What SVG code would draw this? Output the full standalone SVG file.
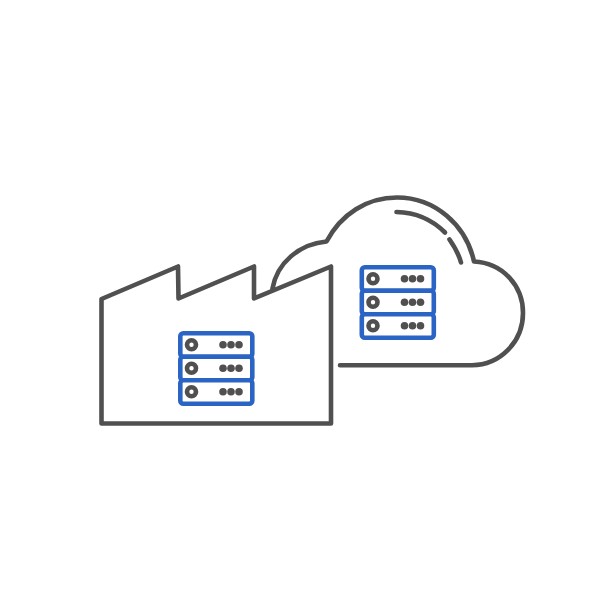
<svg xmlns="http://www.w3.org/2000/svg" width="610" height="610" viewBox="0 0 610 610">
<defs>
<style>
.o{fill:none;stroke:#505050;stroke-width:4.600;stroke-linecap:round;stroke-linejoin:round}
.r{fill:#fff;stroke:#2a64c4;stroke-width:4.600;stroke-linejoin:round}
.h{fill:#fff;stroke:#505050;stroke-width:4.600}
.d{fill:#505050}
</style>
<g id="server">
<rect class="r" x="361.800" y="267.300" width="72" height="23.500" rx="3"/>
<rect class="r" x="361.800" y="290.800" width="72" height="23.500" rx="3"/>
<rect class="r" x="361.800" y="314.300" width="72" height="23.500" rx="3"/>
<circle class="h" cx="373" cy="278.700" r="4.500"/>
<circle class="h" cx="373" cy="302.200" r="4.500"/>
<circle class="h" cx="373" cy="325.800" r="4.500"/>
<circle class="d" cx="404.500" cy="278.700" r="3.800"/><circle class="d" cx="412.500" cy="278.700" r="3.800"/><circle class="d" cx="420.500" cy="278.700" r="3.800"/>
<circle class="d" cx="404.500" cy="302.200" r="3.800"/><circle class="d" cx="412.500" cy="302.200" r="3.800"/><circle class="d" cx="420.500" cy="302.200" r="3.800"/>
<circle class="d" cx="404.500" cy="325.800" r="3.800"/><circle class="d" cx="412.500" cy="325.800" r="3.800"/><circle class="d" cx="420.500" cy="325.800" r="3.800"/>
</g>
</defs>
<rect width="610" height="610" fill="#fff"/>
<g id="cloud">
<path class="o" d="M272.500 288.500C277 263 299 244 326.500 241.500C341 214 367 197.500 397 197.500C435 197.500 466 225 474 261.500C503 263 523 286 523 313C523 342 500 365.200 472 365.200L340 365.200"/>
<path class="o" d="M396.500 212C416 212.500 433 220.500 445 232.500"/>
<path class="o" d="M449.500 239.500C454 246 459 255 461 262.500"/>
<use href="#server"/>
</g>
<g id="factory">
<path class="o" d="M101.500 299L178 266.500L178.500 298.500L254 266.500L254 298.500L331 266.500L331 423.500L101.500 423.500Z"/>
<use href="#server" transform="translate(-181.500 66)"/>
</g>
<g id="connectors"/>
</svg>
